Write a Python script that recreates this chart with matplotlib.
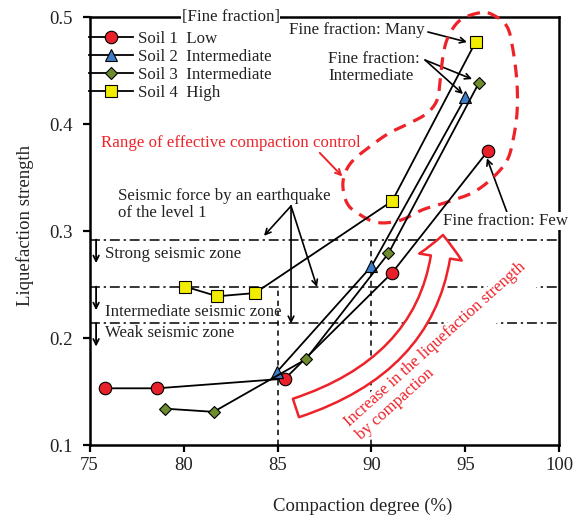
import numpy as np
import matplotlib
matplotlib.use("Agg")
import matplotlib.pyplot as plt
from matplotlib.patches import FancyArrowPatch, ArrowStyle
from matplotlib.path import Path

plt.rcParams['font.family'] = ['Liberation Serif', 'DejaVu Serif']

# datos
soil1_x = [75.8, 78.6, 85.4, 91.1, 96.2]
soil1_y = [0.153, 0.153, 0.162, 0.261, 0.375]
soil2_x = [84.95, 90.0, 95.0]
soil2_y = [0.168, 0.267, 0.425]
soil3_x = [79.0, 81.6, 86.5, 90.9, 95.7]
soil3_y = [0.134, 0.131, 0.180, 0.279, 0.438]
soil4_x = [80.1, 81.8, 83.8, 91.1, 95.55]
soil4_y = [0.248, 0.239, 0.242, 0.328, 0.477]

labels = ['Soil 1  Low', 'Soil 2  Intermediate', 'Soil 3  Intermediate', 'Soil 4  High']

# niveles de fuerza sismica (nivel 1)
zona_y = [0.292, 0.248, 0.214]
zona_txt = ['Strong seismic zone', 'Intermediate seismic zone', 'Weak seismic zone']
zona_txt_y = [0.2785, 0.2246, 0.2047]
# grados de compactacion de referencia
comp_x = [85, 90]
comp_top = [0.248, 0.292]

# contorno del rango de compactacion efectiva
rango_x = [95.77, 94.71, 94.07, 93.80, 93.64, 93.48, 92.95, 92.05, 90.98, 89.92,
           89.02, 88.59, 88.48, 88.70, 89.23, 90.29, 91.52, 92.74, 94.02, 95.40,
           96.46, 97.21, 97.53, 97.74, 97.74, 97.53, 97.21, 96.46]
rango_y = [0.504, 0.497, 0.481, 0.463, 0.438, 0.422, 0.410, 0.401, 0.392, 0.379,
           0.366, 0.354, 0.341, 0.326, 0.317, 0.308, 0.310, 0.320, 0.327, 0.336,
           0.350, 0.366, 0.385, 0.410, 0.438, 0.469, 0.491, 0.502]

red = '#ee2229'
fs = 12.2

fig = plt.figure(figsize=(5.79, 5.2), dpi=100)
ax = fig.add_axes([0.1546, 0.1442, 0.8117, 0.8231])

lw = 1.3
h1, = ax.plot(soil1_x, soil1_y, '-o', color='k', lw=lw, mfc='#e8202a', mec='k', mew=0.8, ms=9, zorder=5)
h2, = ax.plot(soil2_x, soil2_y, '-^', color='k', lw=lw, mfc='#3d7cc6', mec='k', mew=0.8, ms=8, zorder=5)
h3, = ax.plot(soil3_x, soil3_y, '-D', color='k', lw=lw, mfc='#6c8c2e', mec='k', mew=0.8, ms=6.5, zorder=5)
h4, = ax.plot(soil4_x, soil4_y, '-s', color='k', lw=lw, mfc='#f2ec00', mec='k', mew=0.8, ms=8.5, zorder=5)

# lineas de zonas sismicas
for yy in zona_y:
    ax.axhline(yy, color='k', lw=1.1, ls=(0, (6.5, 2.5, 1.5, 2.5)), zorder=2)
for xx, yt in zip(comp_x, comp_top):
    ax.plot([xx, xx], [0.1, yt], color='k', lw=1.1, ls=(0, (3.5, 3)), zorder=2)

for yy, t, ty in zip(zona_y, zona_txt, zona_txt_y):
    ax.annotate('', xy=(75.35, yy - 0.022), xytext=(75.35, yy),
                arrowprops=dict(arrowstyle='->', color='k', lw=1.3, shrinkA=0, shrinkB=0))
    ax.text(75.8, ty, t, fontsize=fs, va='center', ha='left', color='#222222')

ax.text(76.5, 0.325, 'Seismic force by an earthquake\nof the level 1', fontsize=fs,
        va='center', ha='left', color='#222222', linespacing=1.1)
for tx, ty in [(84.28, 0.2955), (87.1, 0.2477), (85.72, 0.2135)]:
    ax.annotate('', xy=(tx, ty), xytext=(85.72, 0.3234),
                arrowprops=dict(arrowstyle='->', color='k', lw=1.2, shrinkA=0, shrinkB=0))

# anotaciones de fraccion fina
ax.text(85.6, 0.488, 'Fine fraction: Many', fontsize=fs, va='center', ha='left', color='#222222')
ax.annotate('', xy=(95.08, 0.4766), xytext=(93.0, 0.486),
            arrowprops=dict(arrowstyle='->', color='k', lw=1.2, shrinkA=0, shrinkB=0))
ax.text(87.7, 0.453, 'Fine fraction:\nIntermediate', fontsize=fs, va='center', ha='left',
        color='#222222', linespacing=1.1)
for tx, ty in [(95.35, 0.442), (94.87, 0.428)]:
    ax.annotate('', xy=(tx, ty), xytext=(92.85, 0.4598),
                arrowprops=dict(arrowstyle='->', color='k', lw=1.2, shrinkA=0, shrinkB=0))
ax.text(93.8, 0.3093, 'Fine fraction: Few', fontsize=fs, va='center', ha='left', color='#222222',
        clip_on=False, zorder=8, bbox=dict(facecolor='white', edgecolor='none', pad=0.5))
ax.annotate('', xy=(96.14, 0.368), xytext=(97.2, 0.3178),
            arrowprops=dict(arrowstyle='->', color='k', lw=1.2, shrinkA=0, shrinkB=0))

# contorno rojo discontinuo (Catmull-Rom cerrado)
px = np.array(rango_x)
py = np.array(rango_y)
n = len(px)
cx, cy = [], []
t = np.linspace(0, 1, 12, endpoint=False)
for i in range(n):
    p0, p1, p2, p3 = [(px[(i + k) % n], py[(i + k) % n]) for k in (-1, 0, 1, 2)]
    for s in t:
        s2, s3 = s * s, s * s * s
        for j, arr in ((0, cx), (1, cy)):
            arr.append(0.5 * (2 * p1[j] + (-p0[j] + p2[j]) * s
                              + (2 * p0[j] - 5 * p1[j] + 4 * p2[j] - p3[j]) * s2
                              + (-p0[j] + 3 * p1[j] - 3 * p2[j] + p3[j]) * s3))
cx.append(cx[0]); cy.append(cy[0])
ax.plot(cx, cy, color=red, lw=2.3, ls=(0, (4, 2.6)), clip_on=False, zorder=4)

ax.text(75.6, 0.382, 'Range of effective compaction control', fontsize=fs, color=red,
        va='center', ha='left')
ax.annotate('', xy=(88.45, 0.351), xytext=(87.25, 0.373),
            arrowprops=dict(arrowstyle='->', color=red, lw=1.4, shrinkA=0, shrinkB=0))

# flecha curva hueca (bezier cuadratica)
curva = Path([(85.98, 0.1346), (93.38, 0.1776), (93.8, 0.2963)],
             [Path.MOVETO, Path.CURVE3, Path.CURVE3])
arrow = FancyArrowPatch(path=curva,
                        arrowstyle=ArrowStyle.Simple(head_length=16, head_width=31, tail_width=14),
                        facecolor='white', edgecolor=red, lw=1.8, zorder=6)
ax.add_patch(arrow)
ax.text(89.0, 0.1136, 'Increase in the liquefaction strength\nby compaction', fontsize=12,
        color=red, rotation=42, rotation_mode='anchor', ha='left', va='center',
        multialignment='left', linespacing=1.05, zorder=7,
        bbox=dict(facecolor='white', edgecolor='none', pad=0.3))

# leyenda
leg = ax.legend([h1, h2, h3, h4], labels, loc='upper left', bbox_to_anchor=(-0.001, 0.968),
                frameon=False, fontsize=fs, handlelength=2.6, handletextpad=0.3,
                labelspacing=0.12, borderpad=0, borderaxespad=0)
leg.set_zorder(9)
for txt in leg.get_texts():
    txt.set_color('#222222')
ax.text(0.30, 1.0, '[Fine fraction]', transform=ax.transAxes, fontsize=fs, ha='center',
        va='center', color='#222222', zorder=10,
        bbox=dict(facecolor='white', edgecolor='none', pad=0.5))

ax.set_xlim(75, 100)
ax.set_ylim(0.1, 0.5)
ax.set_xticks([75, 80, 85, 90, 95, 100])
ax.set_yticks([0.1, 0.2, 0.3, 0.4, 0.5])
ax.set_xlabel('Compaction degree (%)', fontsize=13.5, color='#222222')
ax.set_ylabel('Liquefaction strength', fontsize=13.5, color='#222222')
ax.xaxis.set_label_coords(0.582, -0.122)
ax.yaxis.set_label_coords(-0.118, 0.514)
ax.tick_params(labelsize=13.5, direction='out', length=5, width=1.6, labelcolor='#222222')
ax.tick_params(axis='y', pad=7)
for sp in ax.spines.values():
    sp.set_linewidth(1.8)

fig.savefig('out.png', dpi=100)
